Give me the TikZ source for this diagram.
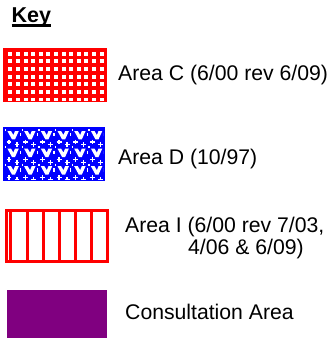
\documentclass[tikz,border=0pt]{standalone}
\usepackage{fontspec}
\setmainfont{Liberation Sans}
\definecolor{keyred}{HTML}{FF0000}
\definecolor{keyblue}{HTML}{0000FF}
\definecolor{keypurple}{HTML}{800080}
\begin{document}
\begin{tikzpicture}[x=1pt,y=-1pt,
  keytext/.style={anchor=base west, inner sep=0pt, font=\fontsize{21.2}{22}\selectfont},
  keyhead/.style={anchor=base west, inner sep=0pt, font=\bfseries\fontsize{21.5}{22}\selectfont},
  whitemark/.style={draw=white, line width=1.3pt},
  ibar/.style={draw=keyred, line width=3pt}]
\useasboundingbox (0,0) rectangle (332,338);

% Title
\node[keyhead] (keytitle) at (11.5,22) {Key};
\draw[line width=2.8pt] ([yshift=-3.6pt]keytitle.base west) -- ([yshift=-3.6pt]keytitle.base east);

% Area C swatch: red grid with white holes
\fill[keyred] (3,48) rectangle (107,102);
\begin{scope}
  \clip (5,50) rectangle (105,100);
  \foreach \i in {0,...,12} {
    \foreach \j in {0,...,6} {
      \fill[white] (8.3+\i*7.6, 51.6+\j*7.7) rectangle ++(4,4);
    }
  }
\end{scope}

% Area D swatch: blue with white figured pattern
\fill[keyblue] (3,127) rectangle (105,181);
\begin{scope}
  \clip (5,129) rectangle (103,179);
  \foreach \i in {-1,...,5} {
    \foreach \j in {-1,...,2} {
      \begin{scope}[shift={(5+\i*16.7,131+\j*17.6)}]
        \fill[white] (2.4,0) -- (6,0) -- (8.4,4) -- (10,0) -- (13.8,0) -- (10,8.4) -- (7,8.4) -- cycle;
        \draw[whitemark] (1.6,11) -- (6.4,11) (4,8.6) -- (4,13.4);
        \draw[whitemark] (9.6,13.6) -- (14.4,13.6) (12,11.2) -- (12,16);
        \draw[whitemark] (15.6,2) -- (15.6,5.4);
        \draw[whitemark] (0.6,15) -- (0.6,17.4);
      \end{scope}
    }
  }
\end{scope}

% Area I swatch: red outline with vertical bars
\draw[ibar] (6.5,210.6) rectangle (107.4,261.4);
\foreach \x in {10.6,27.5,43.5,59.5,75.6,91.6} {
  \draw[ibar] (\x,210.6) -- (\x,261.4);
}

% Consultation swatch
\fill[keypurple] (7,290) rectangle (107,337.5);

% Labels
\node[keytext] (labC) at (118,80.6) {Area C (6/00 rev 6/09)};
\node[keytext] (labD) at (118,164) {Area D (10/97)};
\node[keytext] (labIa) at (125,232) {Area I (6/00 rev 7/03,};
\node[keytext] (labIb) at (188,254) {4/06 \& 6/09)};
\node[keytext] (labP) at (125,319) {Consultation Area};
\end{tikzpicture}
\end{document}
